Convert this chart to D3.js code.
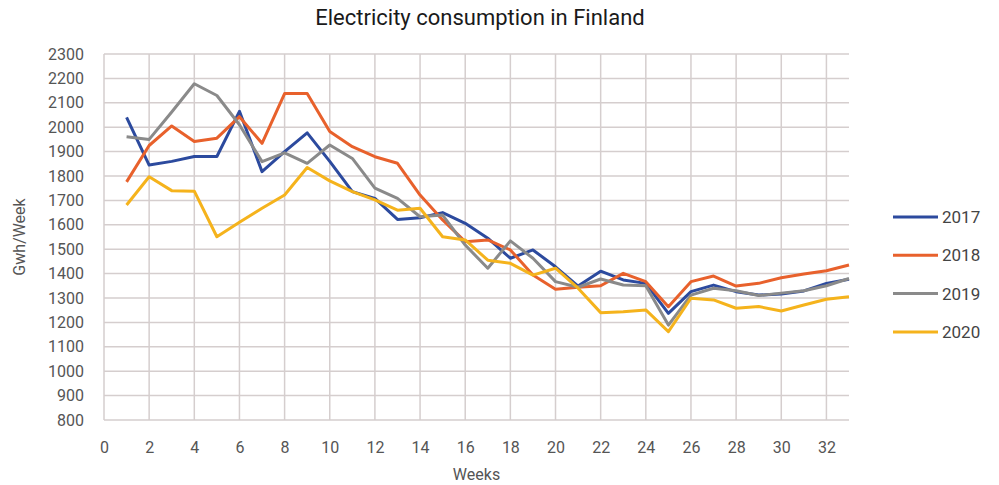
<!DOCTYPE html>
<html>
<head>
<meta charset="utf-8">
<script src="https://cdn.jsdelivr.net/npm/d3@7"></script>
<style>
  body { margin: 0; background: #fff; }
  svg { font-family: Roboto, "Noto Sans", sans-serif; }
</style>
</head>
<body>
<div id="chart"></div>
<script>
const weeks = d3.range(1, 34);
const yTicks = d3.range(800, 2301, 100);
const xTicks = d3.range(0, 33, 2);
const years = ["2017", "2018", "2019", "2020"];
const colors = ["#2c4a9e", "#e8612c", "#8a8a8a", "#f5b31c"];

const s2017 = [2040, 1845, 1860, 1880, 1880, 2065, 1818, 1900, 1977, 1860, 1736, 1708, 1622, 1629, 1650, 1606, 1545,
  1463, 1497, 1428, 1349, 1410, 1374, 1360, 1237, 1326, 1353, 1326, 1312, 1316, 1329, 1360, 1377];
const s2018 = [1776, 1925, 2005, 1941, 1955, 2043, 1934, 2138, 2138, 1982, 1920, 1879, 1852, 1722, 1620, 1531, 1538,
  1497, 1394, 1336, 1344, 1350, 1401, 1367, 1264, 1367, 1390, 1349, 1360, 1383, 1398, 1412, 1435];
const s2019 = [1961, 1950, 2062, 2178, 2130, 2010, 1859, 1895, 1852, 1927, 1872, 1750, 1708, 1633, 1640, 1517, 1422,
  1534, 1463, 1367, 1344, 1378, 1353, 1350, 1189, 1312, 1340, 1330, 1310, 1320, 1330, 1350, 1380];
const s2020 = [1681, 1797, 1740, 1738, 1551, 1610, 1668, 1722, 1835, 1780, 1736, 1702, 1660, 1668, 1551, 1538, 1455,
  1442, 1394, 1422, 1340, 1240, 1244, 1251, 1162, 1299, 1292, 1258, 1265, 1247, 1271, 1295, 1305];
const series = [s2017, s2018, s2019, s2020];

const W = 999, H = 485;
const m = { left: 104, right: 150, top: 54, bottom: 65 };

const svg = d3.select("#chart").append("svg")
  .attr("width", W).attr("height", H);

const x = d3.scaleLinear().domain([0, 33]).range([m.left, W - m.right]);
const y = d3.scaleLinear().domain([800, 2300]).range([H - m.bottom, m.top]);

// title
svg.append("text")
  .attr("x", 480).attr("y", 25)
  .attr("text-anchor", "middle")
  .attr("font-size", 22).attr("font-weight", 400)
  .attr("fill", "#1a1a1a")
  .text("Electricity consumption in Finland");

// grid
const grid = svg.append("g").attr("stroke", "#d5cece").attr("stroke-width", 1.5);
grid.selectAll("line.h").data(yTicks).join("line")
  .attr("x1", x(0)).attr("x2", x(33))
  .attr("y1", d => y(d)).attr("y2", d => y(d));
grid.selectAll("line.v").data(xTicks).join("line")
  .attr("y1", y(800)).attr("y2", y(2300))
  .attr("x1", d => x(d)).attr("x2", d => x(d));

// axes
const yAxis = svg.append("g")
  .attr("transform", `translate(${m.left - 4},0)`)
  .call(d3.axisLeft(y).tickValues(yTicks).tickFormat(d3.format("d")).tickSize(0).tickPadding(16));
const xAxis = svg.append("g")
  .attr("transform", `translate(0,${H - m.bottom + 8})`)
  .call(d3.axisBottom(x).tickValues(xTicks).tickSize(0).tickPadding(14));
[yAxis, xAxis].forEach(a => {
  a.select(".domain").remove();
  a.selectAll("text").attr("font-size", 16).attr("fill", "#555")
    .attr("font-family", "Roboto, sans-serif");
});

svg.append("text")
  .attr("x", x(16.5)).attr("y", 480)
  .attr("text-anchor", "middle")
  .attr("font-size", 16).attr("fill", "#555")
  .text("Weeks");
svg.append("text")
  .attr("transform", `translate(25,${y(1550)}) rotate(-90)`)
  .attr("text-anchor", "middle")
  .attr("font-size", 16).attr("fill", "#555")
  .text("Gwh/Week");

// lines
const line = d3.line().x((d, i) => x(weeks[i])).y(d => y(d));
svg.append("g").selectAll("path").data(series).join("path")
  .attr("d", line)
  .attr("fill", "none")
  .attr("stroke", (d, i) => colors[i])
  .attr("stroke-width", 3)
  .attr("stroke-linejoin", "round");

// legend
const leg = svg.append("g").selectAll("g").data(years).join("g")
  .attr("transform", (d, i) => `translate(893,${217 + i * 38.3})`);
leg.append("line")
  .attr("x1", 0).attr("x2", 45)
  .attr("stroke", (d, i) => colors[i]).attr("stroke-width", 3);
leg.append("text")
  .attr("x", 49).attr("dy", "0.35em")
  .attr("font-size", 17).attr("fill", "#444")
  .text(d => d);
</script>
</body>
</html>
